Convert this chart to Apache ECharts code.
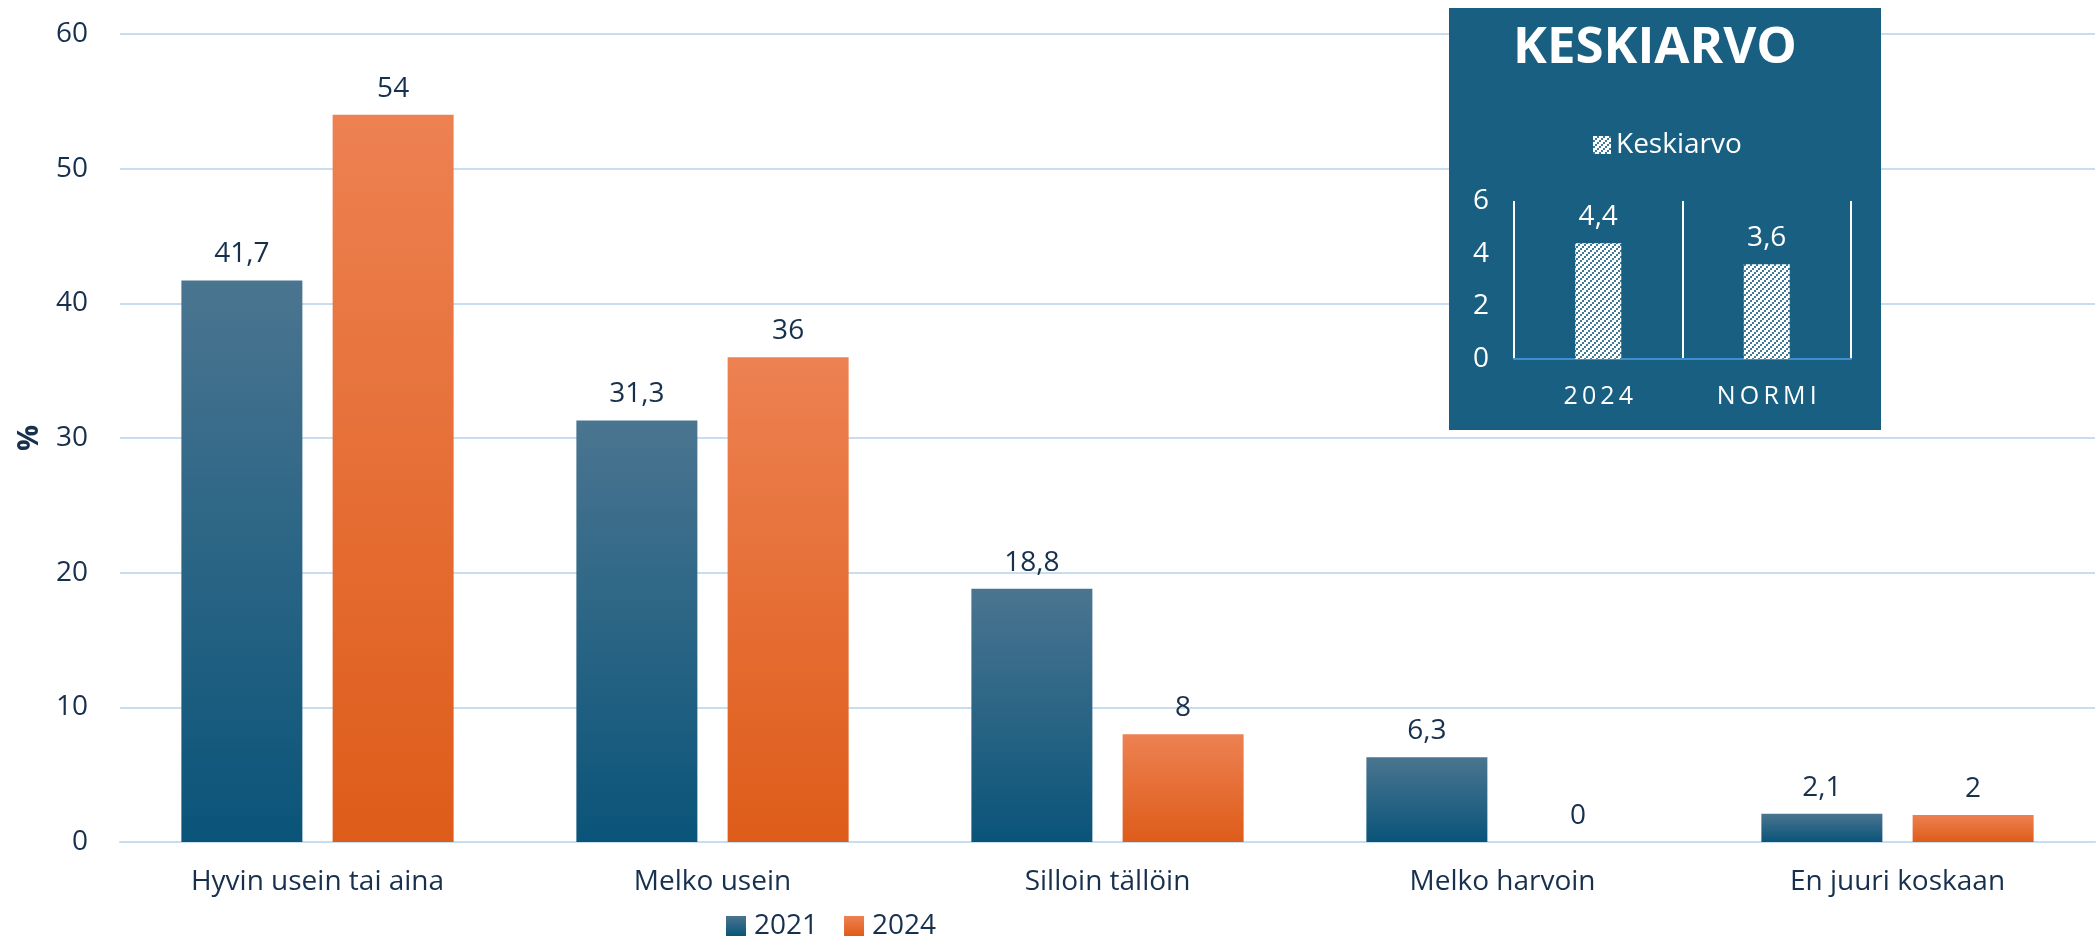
<!DOCTYPE html>
<html>
<head>
<meta charset="utf-8">
<script src="https://cdn.jsdelivr.net/npm/echarts@6/dist/echarts.min.js"></script>
<style>
  html, body { margin: 0; padding: 0; background: #ffffff; }
  #chart { width: 2100px; height: 937px; }
</style>
</head>
<body>
<div id="chart"></div>
<script>
// Answer categories and shares (%) per survey year
const categories = ['Hyvin usein tai aina', 'Melko usein', 'Silloin tällöin', 'Melko harvoin', 'En juuri koskaan'];
const values2021 = [41.7, 31.3, 18.8, 6.3, 2.1];
const values2024 = [54, 36, 8, 0, 2];
const seriesNames = ['2021', '2024'];

// Average score panel
const meanCategories = ['2024', 'NORMI'];
const meanValues = [4.4, 3.6];
const meanSeriesName = 'Keskiarvo';
const meanTitle = 'KESKIARVO';

const FONT = '"Open Sans", "Noto Sans", sans-serif';
const TEXT = '#17304d';
const PANEL = '#185f82';

const fmt = v => String(v).replace('.', ',');

// Hatched fill: white with diagonal rows of panel-blue dots
function hatchPattern() {
  const c = document.createElement('canvas');
  c.width = 6; c.height = 6;
  const g = c.getContext('2d');
  g.fillStyle = '#ffffff';
  g.fillRect(0, 0, 6, 6);
  g.fillStyle = '#3f7a98';
  g.fillRect(0, 4, 2, 2);
  g.fillRect(2, 2, 2, 2);
  g.fillRect(4, 0, 2, 2);
  return { image: c, repeat: 'repeat' };
}

const blueGrad = new echarts.graphic.LinearGradient(0, 0, 0, 1, [
  { offset: 0, color: '#4a7590' },
  { offset: 1, color: '#0a5479' }
]);
const orangeGrad = new echarts.graphic.LinearGradient(0, 0, 0, 1, [
  { offset: 0, color: '#ed8152' },
  { offset: 1, color: '#de5c19' }
]);

const chart = echarts.init(document.getElementById('chart'), null, { renderer: 'canvas' });

const option = {
  animation: false,
  textStyle: { fontFamily: FONT },
  grid: [
    { left: 120, right: 5, top: 34, bottom: 95 },
    { left: 1514, width: 337, top: 201, height: 158 }
  ],
  legend: [
    {
      data: seriesNames,
      left: 721, top: 907,
      itemWidth: 20, itemHeight: 20, itemGap: 26,
      icon: 'rect',
      textStyle: { color: TEXT, fontSize: 28, fontFamily: FONT, padding: [0, 0, 0, 3] }
    },
    {
      data: [meanSeriesName],
      left: 1588, top: 126,
      itemWidth: 18, itemHeight: 18,
      icon: 'rect',
      z: 20,
      textStyle: { color: '#ffffff', fontSize: 28, fontFamily: FONT }
    }
  ],
  xAxis: [
    {
      type: 'category', gridIndex: 0, data: categories,
      axisLine: { lineStyle: { color: '#c9ddf1', width: 2 } },
      axisTick: { show: false },
      axisLabel: { color: TEXT, fontSize: 28, margin: 26, fontFamily: FONT }
    },
    {
      type: 'category', gridIndex: 1, data: meanCategories,
      axisLine: { lineStyle: { color: '#3d8fd2', width: 2 } },
      axisTick: { show: false },
      splitLine: { show: true, lineStyle: { color: '#ffffff', width: 2 } },
      axisLabel: {
        color: '#ffffff', fontSize: 25, margin: 25, fontFamily: FONT,
        formatter: v => v.split('').join('\u2009')
      },
      z: 12
    }
  ],
  yAxis: [
    {
      type: 'value', gridIndex: 0, min: 0, max: 60, interval: 10,
      name: '%', nameLocation: 'middle', nameGap: 76, nameRotate: 90,
      nameTextStyle: { color: TEXT, fontSize: 29, fontWeight: 'bold', fontFamily: FONT },
      axisLine: { show: false }, axisTick: { show: false },
      axisLabel: { color: TEXT, fontSize: 28, margin: 32, fontFamily: FONT },
      splitLine: { lineStyle: { color: '#c9ddf1', width: 2 } }
    },
    {
      type: 'value', gridIndex: 1, min: 0, max: 6, interval: 2,
      axisLine: { show: false }, axisTick: { show: false },
      axisLabel: { color: '#ffffff', fontSize: 28, margin: 25, fontFamily: FONT },
      splitLine: { show: false },
      z: 12
    }
  ],
  graphic: [
    {
      type: 'rect', z: 5,
      shape: { x: 1449, y: 8, width: 432, height: 422 },
      style: { fill: PANEL }
    },
    {
      type: 'text', z: 6,
      x: 1655, y: 48,
      style: {
        text: meanTitle, fill: '#ffffff',
        font: 'bold 51px "Open Sans", "Noto Sans", sans-serif',
        align: 'center', verticalAlign: 'middle'
      }
    }
  ],
  series: [
    {
      name: seriesNames[0], type: 'bar', xAxisIndex: 0, yAxisIndex: 0,
      data: values2021, barWidth: 121, barGap: '25%',
      itemStyle: { color: blueGrad },
      label: { show: true, position: 'top', distance: 12, color: TEXT, fontSize: 28, fontFamily: FONT, formatter: p => fmt(p.value) },
      z: 2
    },
    {
      name: seriesNames[1], type: 'bar', xAxisIndex: 0, yAxisIndex: 0,
      data: values2024, barWidth: 121, barGap: '25%',
      itemStyle: { color: orangeGrad },
      label: { show: true, position: 'top', distance: 12, color: TEXT, fontSize: 28, fontFamily: FONT, formatter: p => fmt(p.value) },
      z: 2
    },
    {
      name: meanSeriesName, type: 'bar', xAxisIndex: 1, yAxisIndex: 1,
      data: meanValues, barWidth: 46,
      itemStyle: { color: hatchPattern() },
      label: { show: true, position: 'top', distance: 12, color: '#ffffff', fontSize: 28, fontFamily: FONT, formatter: p => fmt(p.value) },
      z: 12
    }
  ]
};

chart.setOption(option);
</script>
</body>
</html>
